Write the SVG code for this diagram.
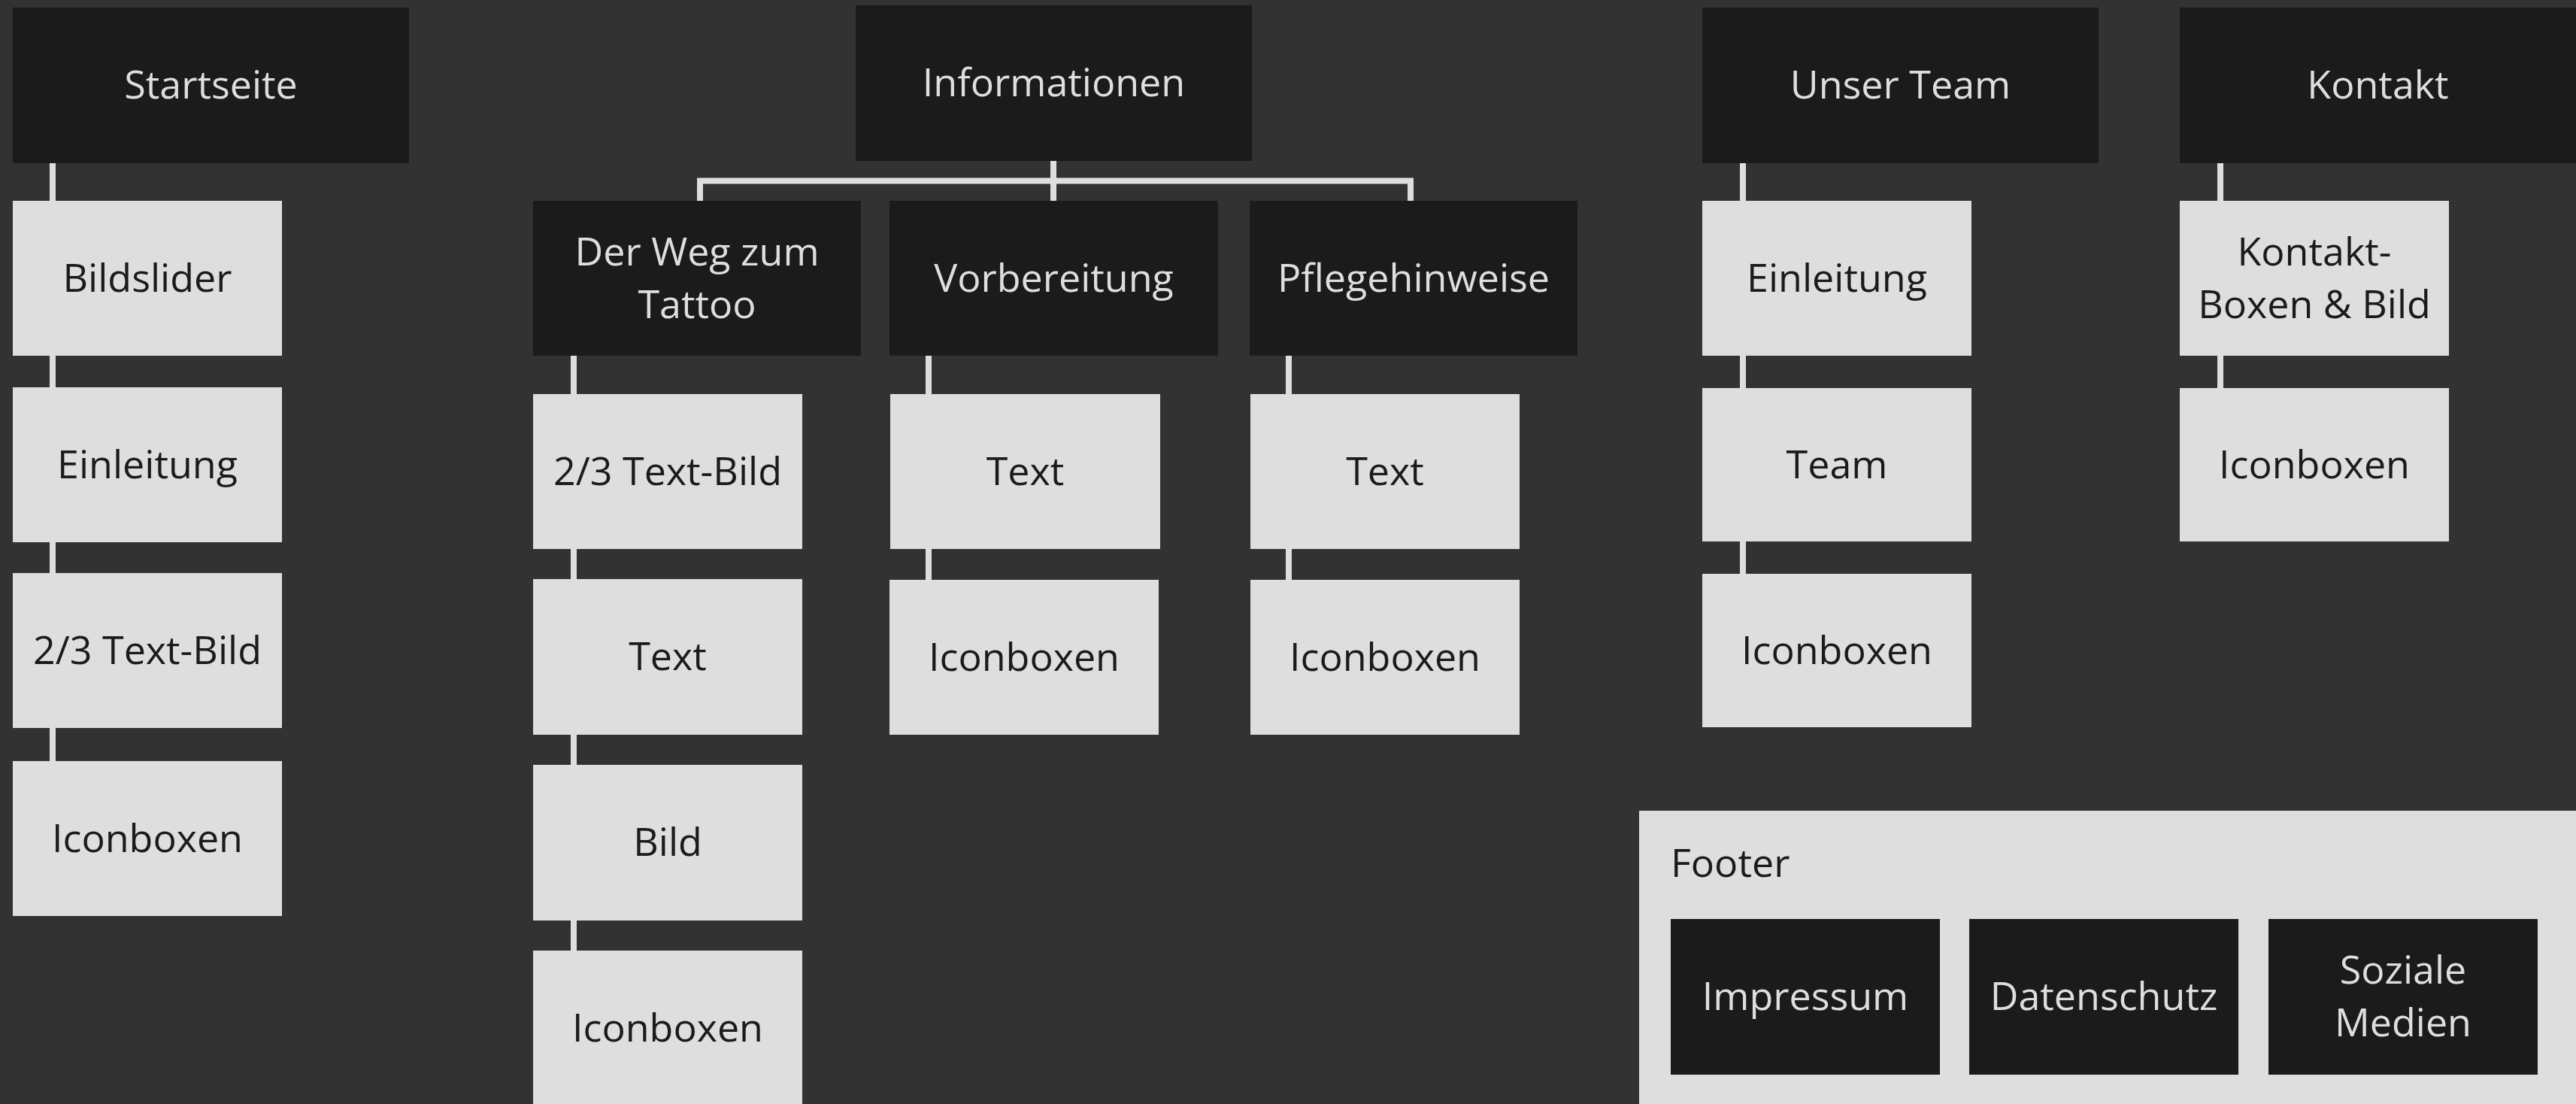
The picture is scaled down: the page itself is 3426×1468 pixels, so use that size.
<svg xmlns="http://www.w3.org/2000/svg" width="3426" height="1468" viewBox="0 0 3426 1468">
<style>
.bg{fill:#323232}
.dark{fill:#1b1b1b}
.light{fill:#dedede}
text{font-family:"Open Sans","Noto Sans","Liberation Sans",sans-serif;font-size:52px;text-anchor:middle}
.tl{fill:#dedede}
.td{fill:#1b1b1b}
.conn{stroke:#dedede;stroke-width:8;fill:none}
</style>
<rect class="bg" x="0" y="0" width="3426" height="1468"/>
<g id="connectors">
<path class="conn" d="M70,217 V1012"/>
<path class="conn" d="M1401,214 V267"/>
<path class="conn" d="M931,267 V240.5 H1876 V267"/>
<path class="conn" d="M763,473 V1264"/>
<path class="conn" d="M1235,473 V771"/>
<path class="conn" d="M1714,473 V771"/>
<path class="conn" d="M2318,217 V763"/>
<path class="conn" d="M2953,217 V516"/>
</g>
<g id="startseite"><rect class="dark" x="17" y="10" width="527" height="207"/><text class="tl" x="280.5" y="131">Startseite</text></g>
<g id="s-bildslider"><rect class="light" x="17" y="267" width="358" height="206"/><text class="td" x="196" y="388">Bildslider</text></g>
<g id="s-einleitung"><rect class="light" x="17" y="515" width="358" height="206"/><text class="td" x="196" y="636">Einleitung</text></g>
<g id="s-textbild"><rect class="light" x="17" y="762" width="358" height="206"/><text class="td" x="196" y="883">2/3 Text-Bild</text></g>
<g id="s-iconboxen"><rect class="light" x="17" y="1012" width="358" height="206"/><text class="td" x="196" y="1133">Iconboxen</text></g>

<g id="informationen"><rect class="dark" x="1138" y="7" width="527" height="207"/><text class="tl" x="1401.5" y="128">Informationen</text></g>
<g id="weg"><rect class="dark" x="709" y="267" width="436" height="206"/><text class="tl" x="927" y="353">Der Weg zum</text><text class="tl" x="927" y="423">Tattoo</text></g>
<g id="vorbereitung"><rect class="dark" x="1183" y="267" width="437" height="206"/><text class="tl" x="1401.5" y="388">Vorbereitung</text></g>
<g id="pflege"><rect class="dark" x="1662" y="267" width="436" height="206"/><text class="tl" x="1880" y="388">Pflegehinweise</text></g>

<g id="w-textbild"><rect class="light" x="709" y="524" width="358" height="206"/><text class="td" x="888" y="645">2/3 Text-Bild</text></g>
<g id="w-text"><rect class="light" x="709" y="770" width="358" height="207"/><text class="td" x="888" y="891">Text</text></g>
<g id="w-bild"><rect class="light" x="709" y="1017" width="358" height="207"/><text class="td" x="888" y="1138">Bild</text></g>
<g id="w-iconboxen"><rect class="light" x="709" y="1264" width="358" height="206"/><text class="td" x="888" y="1385">Iconboxen</text></g>

<g id="v-text"><rect class="light" x="1184" y="524" width="359" height="206"/><text class="td" x="1363.5" y="645">Text</text></g>
<g id="v-iconboxen"><rect class="light" x="1183" y="771" width="358" height="206"/><text class="td" x="1362" y="892">Iconboxen</text></g>

<g id="p-text"><rect class="light" x="1663" y="524" width="358" height="206"/><text class="td" x="1842" y="645">Text</text></g>
<g id="p-iconboxen"><rect class="light" x="1663" y="771" width="358" height="206"/><text class="td" x="1842" y="892">Iconboxen</text></g>

<g id="team"><rect class="dark" x="2264" y="10" width="527" height="207"/><text class="tl" x="2527.5" y="131">Unser Team</text></g>
<g id="t-einleitung"><rect class="light" x="2264" y="267" width="358" height="206"/><text class="td" x="2443" y="388">Einleitung</text></g>
<g id="t-team"><rect class="light" x="2264" y="516" width="358" height="204"/><text class="td" x="2443" y="636">Team</text></g>
<g id="t-iconboxen"><rect class="light" x="2264" y="763" width="358" height="204"/><text class="td" x="2443" y="883">Iconboxen</text></g>

<g id="kontakt"><rect class="dark" x="2899" y="10" width="527" height="207"/><text class="tl" x="3162.5" y="131">Kontakt</text></g>
<g id="k-boxen"><rect class="light" x="2899" y="267" width="358" height="206"/><text class="td" x="3078" y="353">Kontakt-</text><text class="td" x="3078" y="423">Boxen &amp; Bild</text></g>
<g id="k-iconboxen"><rect class="light" x="2899" y="516" width="358" height="204"/><text class="td" x="3078" y="636">Iconboxen</text></g>

<g id="footer"><rect class="light" x="2180" y="1078" width="1246" height="390"/><text class="td" x="2222" y="1166" style="text-anchor:start">Footer</text></g>
<g id="impressum"><rect class="dark" x="2222" y="1222" width="358" height="207"/><text class="tl" x="2401" y="1343">Impressum</text></g>
<g id="datenschutz"><rect class="dark" x="2619" y="1222" width="358" height="207"/><text class="tl" x="2798" y="1343">Datenschutz</text></g>
<g id="soziale"><rect class="dark" x="3017" y="1222" width="358" height="207"/><text class="tl" x="3196" y="1308">Soziale</text><text class="tl" x="3196" y="1378">Medien</text></g>
</svg>
